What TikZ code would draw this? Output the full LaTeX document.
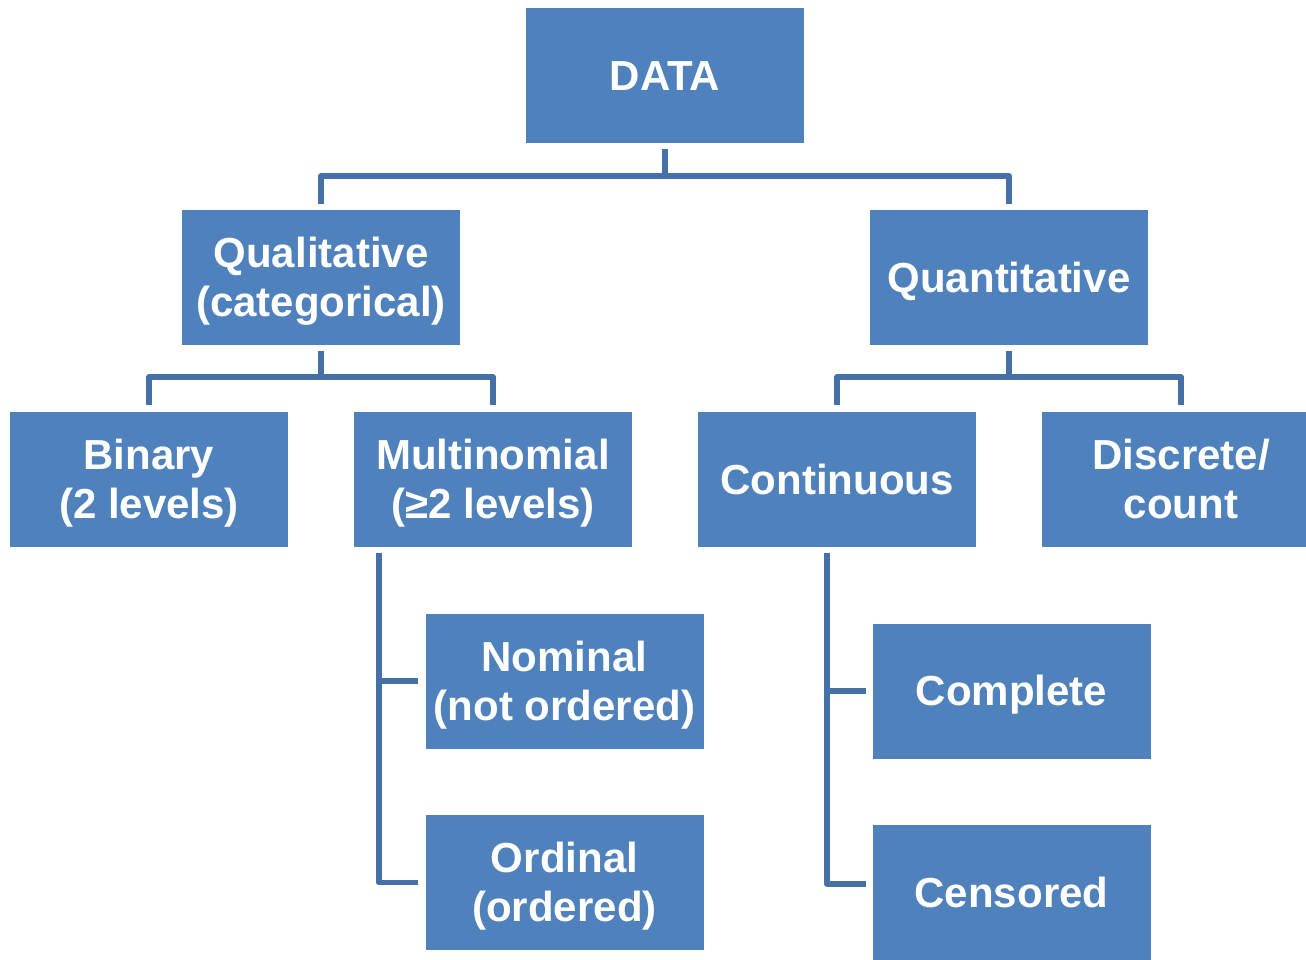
\documentclass[tikz,border=0pt]{standalone}
\usepackage{fontspec}
\setmainfont{Liberation Sans}
\setsansfont{Liberation Sans}
\definecolor{boxblue}{HTML}{4F81BD}
\definecolor{lineblue}{HTML}{4671A8}
\newcommand\boxtext[1]{\raisebox{-5pt}[\height][\depth]{\begin{tabular}{@{}c@{}}#1\end{tabular}}}
\tikzset{
  box/.style={rectangle, fill=boxblue, draw=none, minimum width=278pt, minimum height=135pt,
    inner sep=0pt, text=white, font=\fontsize{42}{49}\selectfont\bfseries\sffamily},
  conn/.style={draw=lineblue, line width=5.5pt, line join=round}
}
\begin{document}
\begin{tikzpicture}[x=1pt,y=-1pt]
\path[use as bounding box, clip] (0,0) rectangle (1306,960);
\node[box] (data) at (665,75.5) {\boxtext{DATA}};
\node[box] (qual) at (321,277.5) {\boxtext{Qualitative\\(categorical)}};
\node[box] (quan) at (1009,277.5) {\boxtext{Quantitative}};
\node[box] (bin) at (149,479.5) {\boxtext{Binary\\(2 levels)}};
\node[box] (multi) at (493,479.5) {\boxtext{Multinomial\\(≥2 levels)}};
\node[box] (cont) at (837,479.5) {\boxtext{Continuous}};
\node[box] (disc) at (1181,479.5) {\boxtext{Discrete/\\count}};
\node[box] (nom) at (564.5,681) {\boxtext{Nominal\\(not ordered)}};
\node[box] (ord) at (564.5,882.5) {\boxtext{Ordinal\\(ordered)}};
\node[box] (comp) at (1011.5,691) {\boxtext{Complete}};
\node[box] (cens) at (1011.5,892.5) {\boxtext{Censored}};
% level 1
\draw[conn] ([yshift=-6pt]data.south) |- ([yshift=34pt]qual.north) -- ([yshift=6pt]qual.north);
\draw[conn] ([yshift=-6pt]data.south) |- ([yshift=34pt]quan.north) -- ([yshift=6pt]quan.north);
% level 2
\draw[conn] ([yshift=-6pt]qual.south) |- ([yshift=35pt]bin.north) -- ([yshift=7pt]bin.north);
\draw[conn] ([yshift=-6pt]qual.south) |- ([yshift=35pt]multi.north) -- ([yshift=7pt]multi.north);
\draw[conn] ([yshift=-6pt]quan.south) |- ([yshift=35pt]cont.north) -- ([yshift=7pt]cont.north);
\draw[conn] ([yshift=-6pt]quan.south) |- ([yshift=35pt]disc.north) -- ([yshift=7pt]disc.north);
% level 3
\coordinate (mv) at ([xshift=25pt,yshift=-6pt]multi.south west);
\draw[conn] (mv) |- ([xshift=-7pt]ord.west);
\draw[conn] (mv |- nom.west) -- ([xshift=-7pt]nom.west);
\coordinate (cv) at ([xshift=-10pt,yshift=-6pt]cont.south);
\draw[conn] (cv) |- ([xshift=-6pt,yshift=8.5pt]cens.west);
\draw[conn] (cv |- comp.west) -- ([xshift=-6pt]comp.west);
\end{tikzpicture}
\end{document}
